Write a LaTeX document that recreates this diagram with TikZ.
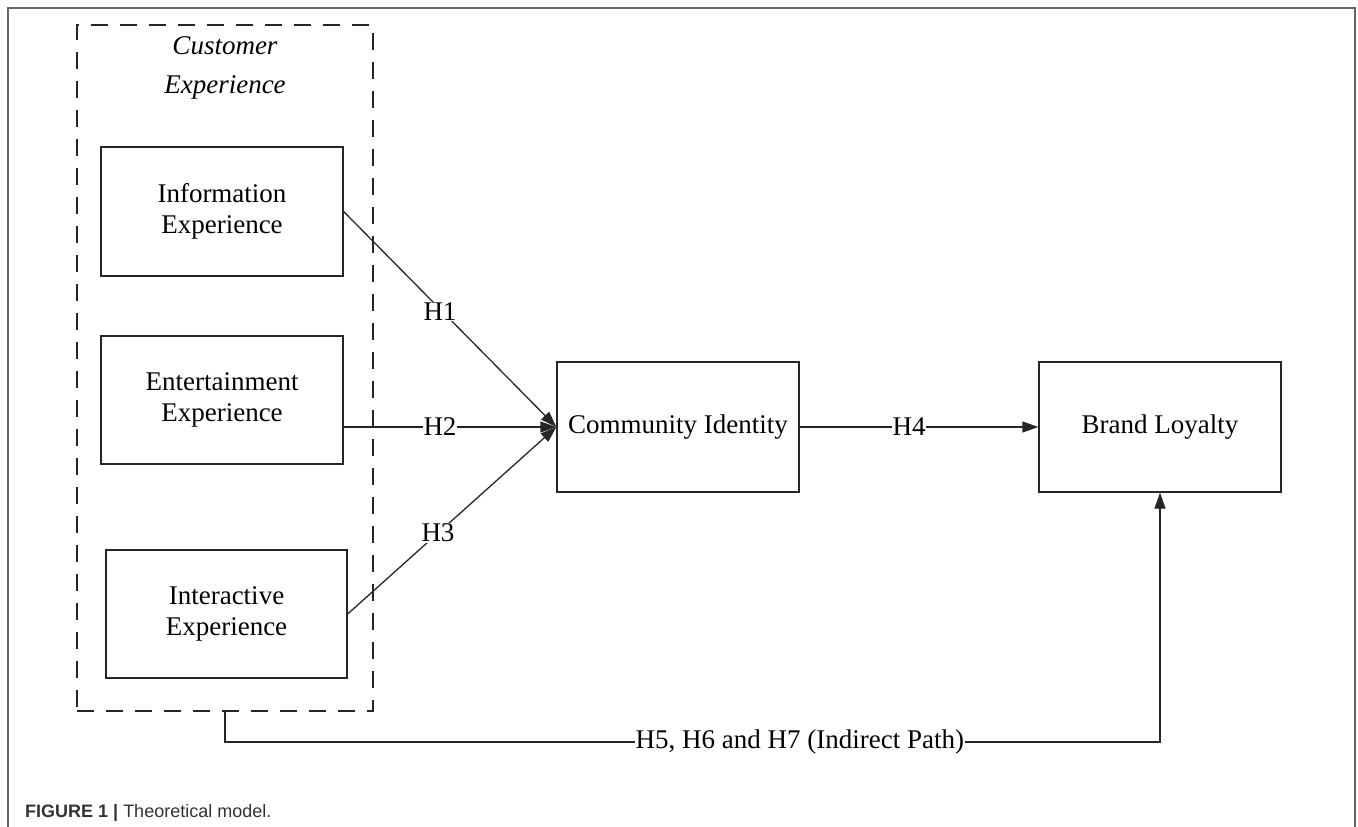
\documentclass[tikz,border=0pt]{standalone}
\usepackage{fontspec}
\setmainfont{Liberation Serif}
\newfontfamily\capfont{Liberation Sans}
\usetikzlibrary{arrows.meta,calc}
\begin{document}
\begin{tikzpicture}[x=1pt,y=-1pt,
  box/.style={draw=black!85, line width=1.3pt, align=center,
    font=\fontsize{27}{31}\selectfont, inner sep=0pt},
  conn/.style={draw=black!85, line width=1.3pt},
  arr/.style={conn, -{Triangle[length=16pt,width=11pt]}},
  lbl/.style={fill=white, inner sep=0.5pt, font=\fontsize{27}{31}\selectfont},
  group/.style={draw=black!85, line width=1.3pt, dash pattern=on 17pt off 12pt},
]
\useasboundingbox (0,0) rectangle (1358,827);
% outer frame (open at the bottom)
\draw[black!60, line width=1.6pt] (8,827) -- (8,8) -- (1355,8) -- (1355,827);

% customer experience group
\node[group, minimum width=296pt, minimum height=686pt, inner sep=0pt] (ce) at (225,368) {};
\node[font=\fontsize{27}{39}\selectfont\itshape, align=center] (cetitle) at (225,68) {Customer\\Experience};

\node[box, minimum width=242pt, minimum height=129pt] (info) at (222,211.5) {Information\\Experience};
\node[box, minimum width=242pt, minimum height=128pt] (ent) at (222,400) {Entertainment\\Experience};
\node[box, minimum width=241pt, minimum height=128pt] (inter) at (226.5,614) {Interactive\\Experience};

\node[box, minimum width=242pt, minimum height=130pt] (ci) at (678,427) {Community Identity};
\node[box, minimum width=242pt, minimum height=130pt] (bl) at (1160,427) {Brand Loyalty};

% connectors
\draw[arr] (info.east) -- (ci.west);
\draw[arr] (ent.east |- ci.west) -- (ci.west);
\draw[arr] (inter.east) -- (ci.west);
\draw[arr] (ci.east) -- (bl.west);

\coordinate (c2) at (1160,742);
\draw[arr] (ce.south) |- (c2) -- (bl.south);

% labels
\node[lbl] (h1) at (440,312) {H1};
\node[lbl] (h2) at (440,427) {H2};
\node[lbl] (h3) at (438,533) {H3};
\node[lbl] (h4) at (909,427) {H4};
\node[lbl, anchor=west] (h567) at (635,742) {H5, H6 and H7 (Indirect Path)};

% caption
\node[anchor=base west, inner sep=0pt, text=black!80,
  font=\capfont\fontsize{18}{21}\selectfont] (cap) at (25,817)
  {\textbf{FIGURE 1 |} Theoretical model.};
\end{tikzpicture}
\end{document}
